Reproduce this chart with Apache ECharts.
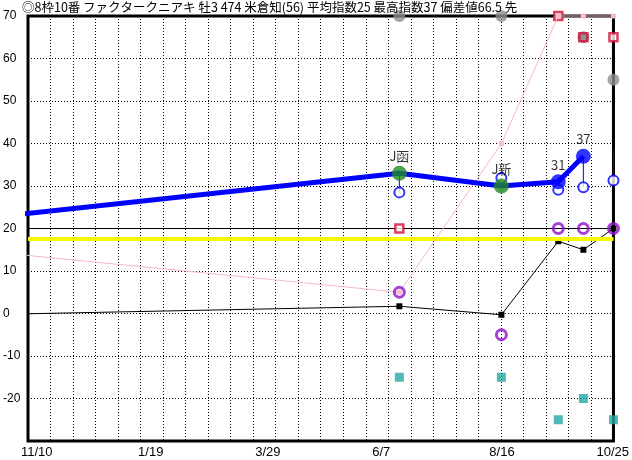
<!DOCTYPE html>
<html><head><meta charset="utf-8">
<script src="https://cdn.jsdelivr.net/npm/echarts@6/dist/echarts.min.js"></script>
<style>html,body{margin:0;padding:0;background:#fff}#c{width:632px;height:460px}</style>
</head><body><div id="c"></div>
<script>
const titleText = '◎8枠10番 ファクタークニアキ 牡3 474 米倉知(56) 平均指数25 最高指数37 偏差値66.5 先';
const axisStart = '2023-11-10';
const axisEnd = '2024-10-25';
const xTickDates = ['2023-11-10','2024-01-19','2024-03-29','2024-06-07','2024-08-16','2024-10-25'];
const yMin = -30, yMax = 70, yStep = 10;
const prevRaceDate = '2023-09-16';
const raceDates = ['2024-06-19','2024-08-19','2024-09-22','2024-10-07','2024-10-25'];
const raceLabels = ['J函','J新','31','37',''];
const speedIndex = [33, 30, 31, 37, null];
const prevSpeedIndex = 21.2;
const estimateIndex = [28.5, 31.9, 29.1, 29.7, 31.3];
const estimateTop = [null, null, null, null, 38.5];
const grayValues = [70, 70, null, 65, 55];
const crimsonValues = [20, null, 70, 65, 65];
const pinkValues = [5, 40, 70, 70, 70];
const prevPinkValue = 15.8;
const purpleValues = [5, -5, 20, 20, 20];
const blackValues = [1.7, -0.3, 17, 15, 20];
const prevBlackValue = -0.5;
const tealValues = [-15, -15, -25, -20, -25];
const averageLine = 17.5;
const referenceLine = 20;

const dayOf = s => { const [y,m,d] = s.split('-').map(Number); const [y0,m0,d0] = axisStart.split('-').map(Number); return (Date.UTC(y,m-1,d) - Date.UTC(y0,m0-1,d0)) / 86400000; };
const xMax = dayOf(axisEnd);
const pts = vals => raceDates.map((d,i) => vals[i] == null ? null : [dayOf(d), vals[i]]).filter(Boolean);
const fmtDate = v => { const s = xTickDates.find(d => Math.abs(dayOf(d) - v) < 0.01); if (!s) return ''; const [y,m,d] = s.split('-').map(Number); return m + '/' + d; };

const BLUE = '#0000ff', GREEN = '#1f8a1f', GRAY = '#8c8c8c';
const chart = echarts.init(document.getElementById('c'), null, {renderer: 'canvas'});
chart.setOption({
  animation: false,
  backgroundColor: '#fff',
  textStyle: {fontFamily: 'Liberation Sans, Noto Sans CJK JP, sans-serif'},
  title: {text: titleText, left: 22, top: 1, padding: 0,
    textStyle: {fontSize: 12.5, fontWeight: 'normal', color: '#000', fontFamily: 'Noto Sans CJK JP'}},
  grid: {left: 26, right: 15, top: 16, bottom: 19, show: true, borderColor: '#000', borderWidth: 3, containLabel: false},
  xAxis: {type: 'value', min: 0, max: xMax, interval: xMax / 26,
    axisLine: {show: false}, axisTick: {show: false},
    splitLine: {show: true, lineStyle: {color: '#000', width: 1, type: [1, 2]}},
    axisLabel: {customValues: xTickDates.map(dayOf), align: 'left', padding: [0,0,0,-7], margin: 5,
      fontSize: 13, color: '#000',
      formatter: v => (Math.abs(v - xMax) < 0.01 ? '{r|' + fmtDate(v) + '}' : fmtDate(v)),
      rich: {r: {fontSize: 13, color: '#000', padding: [0,0,0,-10]}}}},
  yAxis: {type: 'value', min: yMin, max: yMax, interval: yStep,
    axisLine: {show: false}, axisTick: {show: false},
    splitLine: {show: true, lineStyle: {color: '#000', width: 1, type: [1, 2]}},
    axisLabel: {align: 'left', margin: 25, fontSize: 12, color: '#000',
      formatter: v => (v === yMin ? '' : String(v))}},
  series: [
    {type: 'line', z: 2, data: [], silent: true,
      markLine: {silent: true, symbol: 'none', label: {show: false},
        data: [
          {yAxis: averageLine, lineStyle: {color: '#f8f800', width: 4, type: 'solid'}},
          {yAxis: referenceLine, lineStyle: {color: '#000', width: 1, type: 'solid'}}
        ]}},
    {type: 'line', z: 3, clip: false, data: [[dayOf(prevRaceDate), prevBlackValue], ...pts(blackValues)],
      lineStyle: {color: '#000', width: 1}, symbol: 'rect', symbolSize: 6, showSymbol: true,
      itemStyle: {color: '#000'}, showAllSymbol: true},
    {type: 'scatter', z: 4, data: pts(tealValues), symbol: 'rect', symbolSize: 9, itemStyle: {color: '#22a8a2'}},
    {type: 'scatter', z: 5, data: pts(grayValues), symbol: 'circle', symbolSize: 12, itemStyle: {color: GRAY}},
    {type: 'scatter', z: 6, symbol: 'rect', symbolSize: 8,
      data: raceDates.map((d,i) => crimsonValues[i] == null ? null : {
        value: [dayOf(d), crimsonValues[i]],
        itemStyle: {color: grayValues[i] === crimsonValues[i] ? GRAY : '#fff'}}).filter(Boolean),
      itemStyle: {borderColor: '#d0103a', borderWidth: 2.5}},
    {type: 'line', z: 7, clip: false, data: [[dayOf(prevRaceDate), prevPinkValue], ...pts(pinkValues)],
      lineStyle: {color: '#f5b8c6', width: 1}, symbol: 'rect', symbolSize: 5, showAllSymbol: true,
      itemStyle: {color: '#f8bccb'}},
    {type: 'scatter', z: 8, data: pts(purpleValues), symbol: 'circle', symbolSize: 10,
      itemStyle: {color: 'rgba(0,0,0,0)', borderColor: '#8f10cc', borderWidth: 3}},
    {type: 'line', z: 9, clip: false, data: [[dayOf(prevRaceDate), prevSpeedIndex], ...pts(speedIndex)],
      lineStyle: {color: BLUE, width: 5}, showSymbol: false, symbol: 'none'},
    {type: 'custom', z: 10, encode: {x: 0, y: [1, 2]},
      data: raceDates.map((d,i) => [dayOf(d), estimateIndex[i], speedIndex[i] != null ? speedIndex[i] : estimateTop[i]]),
      renderItem: (params, api) => {
        const p1 = api.coord([api.value(0), api.value(1)]);
        const p2 = api.coord([api.value(0), api.value(2)]);
        return {type: 'line', shape: {x1: p1[0], y1: p1[1], x2: p2[0], y2: p2[1]}, style: {stroke: BLUE, lineWidth: 1}};
      }},
    {type: 'scatter', z: 11, data: pts(estimateIndex), symbol: 'circle', symbolSize: 10,
      itemStyle: {color: '#fff', borderColor: BLUE, borderWidth: 2}},
    {type: 'scatter', z: 12, symbol: 'circle', symbolSize: 15,
      data: raceDates.map((d,i) => speedIndex[i] == null ? null : {
        value: [dayOf(d), speedIndex[i]],
        itemStyle: {color: /^\d+$/.test(raceLabels[i]) ? BLUE : GREEN},
        label: {formatter: raceLabels[i]}}).filter(Boolean),
      label: {show: true, position: 'top', distance: 3, color: '#000', fontSize: 13,
        fontFamily: 'Noto Sans CJK JP'}}
  ]
});
</script></body></html>
